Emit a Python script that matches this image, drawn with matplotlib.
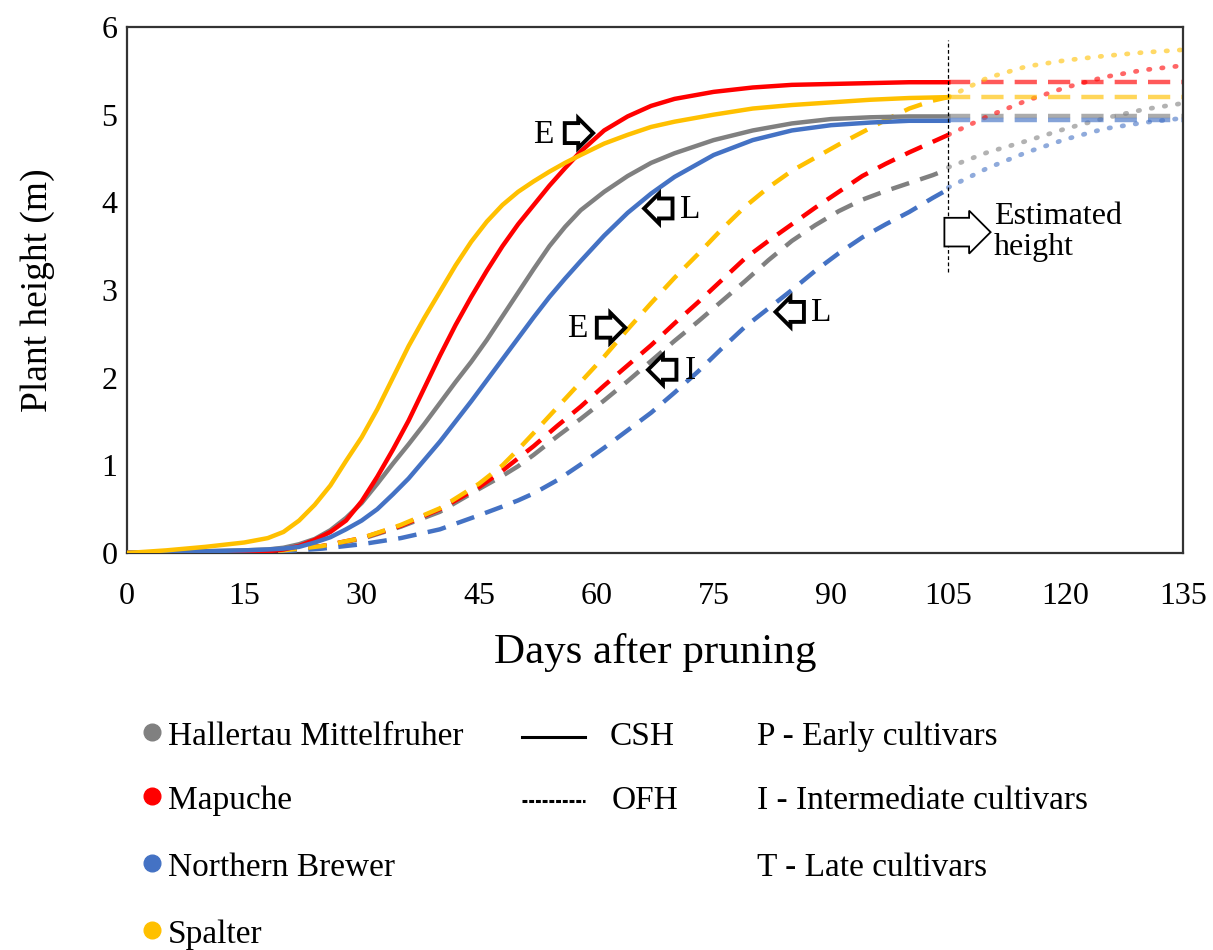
import matplotlib
matplotlib.use("Agg")
import matplotlib.pyplot as plt
from matplotlib.lines import Line2D
import numpy as np

plt.rcParams['font.family'] = ['Liberation Serif', 'DejaVu Serif']

# ---------------- data ----------------
days_csh = [0, 5, 10, 15, 18, 20, 22, 24, 26, 28, 30, 32, 34, 36, 38, 40, 42, 44, 46, 48,
            50, 52, 54, 56, 58, 61, 64, 67, 70, 75, 80, 85, 90, 95, 100, 105]
hall_csh = [0, 0.01, 0.02, 0.03, 0.04, 0.06, 0.10, 0.16, 0.26, 0.40, 0.57, 0.79, 1.02, 1.24, 1.47,
            1.71, 1.95, 2.18, 2.43, 2.70, 2.97, 3.24, 3.50, 3.72, 3.91, 4.12, 4.30, 4.45, 4.56, 4.71,
            4.82, 4.90, 4.95, 4.97, 4.98, 4.98]
map_csh = [0, 0.0, 0.0, 0.01, 0.02, 0.04, 0.08, 0.15, 0.24, 0.37, 0.59, 0.87, 1.18, 1.51, 1.88,
           2.25, 2.60, 2.92, 3.22, 3.50, 3.75, 3.97, 4.19, 4.39, 4.58, 4.82, 4.98, 5.10, 5.18, 5.26,
           5.31, 5.34, 5.35, 5.36, 5.37, 5.37]
nb_csh = [0, 0.01, 0.02, 0.03, 0.04, 0.05, 0.07, 0.12, 0.18, 0.27, 0.37, 0.50, 0.67, 0.85, 1.06,
          1.27, 1.50, 1.73, 1.97, 2.21, 2.45, 2.69, 2.92, 3.13, 3.33, 3.62, 3.88, 4.10, 4.29, 4.54,
          4.71, 4.82, 4.88, 4.91, 4.93, 4.93]
spa_csh = [0, 0.03, 0.07, 0.12, 0.17, 0.24, 0.37, 0.55, 0.77, 1.05, 1.32, 1.64, 2.00, 2.36, 2.68,
           2.98, 3.28, 3.55, 3.78, 3.97, 4.12, 4.24, 4.35, 4.45, 4.54, 4.67, 4.77, 4.86, 4.92, 5.00,
           5.07, 5.11, 5.14, 5.17, 5.19, 5.20]

days_ofh = [0, 5, 10, 15, 20, 25, 30, 35, 40, 45, 48, 50, 52, 55, 58, 61, 64, 67, 70, 73, 76, 79,
            82, 85, 88, 91, 94, 97, 100, 103, 105]
hall_ofh = [0, 0, 0, 0.01, 0.03, 0.08, 0.16, 0.30, 0.47, 0.73, 0.88, 0.99, 1.12, 1.33, 1.53, 1.74,
            1.96, 2.19, 2.42, 2.64, 2.87, 3.10, 3.34, 3.56, 3.74, 3.90, 4.03, 4.13, 4.22, 4.31, 4.38]
map_ofh = [0, 0, 0, 0.01, 0.03, 0.08, 0.17, 0.31, 0.50, 0.75, 0.94, 1.08, 1.22, 1.45, 1.67, 1.91,
           2.14, 2.37, 2.62, 2.86, 3.11, 3.36, 3.56, 3.75, 3.94, 4.12, 4.30, 4.44, 4.57, 4.69, 4.77]
nb_ofh = [0, 0, 0, 0, 0.02, 0.05, 0.10, 0.17, 0.27, 0.43, 0.53, 0.60, 0.68, 0.83, 1.01, 1.20, 1.40,
          1.60, 1.83, 2.07, 2.33, 2.58, 2.79, 3.00, 3.22, 3.42, 3.60, 3.75, 3.89, 4.05, 4.15]
spa_ofh = [0, 0, 0, 0.01, 0.03, 0.08, 0.17, 0.32, 0.51, 0.79, 1.00, 1.18, 1.37, 1.66, 1.95, 2.24,
           2.55, 2.85, 3.14, 3.41, 3.69, 3.95, 4.17, 4.36, 4.51, 4.66, 4.80, 4.94, 5.07, 5.16, 5.20]

# estimated (extrapolated) heights after day 105
days_est = [105, 110, 115, 120, 125, 130, 135]
hall_est = [4.40, 4.57, 4.70, 4.84, 4.96, 5.06, 5.13]
map_est = [4.77, 4.98, 5.16, 5.31, 5.43, 5.51, 5.56]
nb_est = [4.17, 4.39, 4.57, 4.72, 4.84, 4.91, 4.96]
spa_est = [5.20, 5.42, 5.55, 5.62, 5.67, 5.71, 5.74]

days_flat = [105, 135]
hall_flat = [4.98, 4.98]
map_flat = [5.37, 5.37]
nb_flat = [4.94, 4.94]
spa_flat = [5.20, 5.20]

cultivars = ["Hallertau Mittelfruher", "Mapuche", "Northern Brewer", "Spalter"]
colors = ["#808080", "#FF0000", "#4472C4", "#FFC000"]
x_ticks = [0, 15, 30, 45, 60, 75, 90, 105, 120, 135]
y_ticks = [0, 1, 2, 3, 4, 5, 6]

# ---------------- figure ----------------
W, H = 1213, 950
fig = plt.figure(figsize=(W / 100, H / 100), dpi=100)
L, R, T, B = 127, 1183, 27, 553
ax = fig.add_axes([L / W, 1 - B / H, (R - L) / W, (B - T) / H])

csh = [hall_csh, map_csh, nb_csh, spa_csh]
ofh = [hall_ofh, map_ofh, nb_ofh, spa_ofh]
est = [hall_est, map_est, nb_est, spa_est]
flat = [hall_flat, map_flat, nb_flat, spa_flat]

# estimated parts (drawn first, lighter)
for e, f, c in zip(est, flat, colors):
    ax.plot(days_est, e, color=c, alpha=0.6, lw=3.4, linestyle=(0, (0.3, 2.5)),
            dash_capstyle='round', zorder=2)
    ax.plot(days_flat, f, color=c, alpha=0.65, lw=3.2, linestyle=(0, (5, 2.5)), zorder=2)

# OFH dashed
for d, c in zip(ofh, colors):
    ax.plot(days_ofh, d, color=c, lw=3.2, linestyle=(0, (4.2, 2.6)), zorder=3)
# CSH solid
for d, c in zip(csh, colors):
    ax.plot(days_csh, d, color=c, lw=3.2, zorder=4, solid_joinstyle='round')

ax.axvline(105, ymin=3.2 / 6, ymax=5.85 / 6, color='black', lw=0.9, linestyle=(0, (3, 2)), zorder=5)

ax.set_xlim(0, 135)
ax.set_ylim(0, 6)
ax.set_xticks(x_ticks)
ax.set_yticks(y_ticks)
ax.tick_params(length=0, labelsize=23, colors='black')
ax.tick_params(axis='x', pad=21)
ax.tick_params(axis='y', pad=7)
for s in ax.spines.values():
    s.set_linewidth(1.6)
    s.set_color('#333333')

ax.set_xlabel("Days after pruning", fontsize=31, labelpad=16)
ax.set_ylabel("Plant height (m)", fontsize=27, labelpad=33)

# annotations with hollow arrows
def harrow(x, y, direction, fs=10, lw=2.8):
    style = 'rarrow,pad=0.25' if direction == 'r' else 'larrow,pad=0.25'
    ax.text(x, y, '    ', fontsize=fs, ha='center', va='center',
            bbox=dict(boxstyle=style, fc='white', ec='black', lw=lw), zorder=6)

fs_lab = 24
ax.text(53.2, 4.77, "E", fontsize=fs_lab, ha='center', va='center', zorder=6)
harrow(57.3, 4.79, 'r')
harrow(68.4, 3.93, 'l')
ax.text(72.0, 3.91, "L", fontsize=fs_lab, ha='center', va='center', zorder=6)
ax.text(57.5, 2.56, "E", fontsize=fs_lab, ha='center', va='center', zorder=6)
harrow(61.4, 2.57, 'r')
harrow(68.9, 2.09, 'l')
ax.text(72.0, 2.08, "I", fontsize=fs_lab, ha='center', va='center', zorder=6)
harrow(85.2, 2.75, 'l')
ax.text(88.8, 2.74, "L", fontsize=fs_lab, ha='center', va='center', zorder=6)

ax.text(106.8, 3.66, '     ', fontsize=14, ha='center', va='center',
        bbox=dict(boxstyle='rarrow,pad=0.3', fc='white', ec='black', lw=1.3), zorder=6)
ax.text(110.8, 3.66, "Estimated\nheight", fontsize=23, ha='left', va='center',
        linespacing=1.1, zorder=6)

# ---------------- custom legend ----------------
def fx(px):
    return px / W

def fy(py):
    return 1 - py / H

fs_leg = 24
rows = [737, 801, 868, 935]
for name, c, ry in zip(cultivars, colors, rows):
    fig.add_artist(Line2D([fx(152)], [fy(ry - 5)], marker='o', markersize=12, color=c,
                          transform=fig.transFigure, linestyle='none'))
    fig.text(fx(168), fy(ry), name, fontsize=fs_leg, ha='left', va='center')

fig.add_artist(Line2D([fx(522), fx(585)], [fy(737), fy(737)], color='black', lw=2.2,
                      transform=fig.transFigure))
fig.text(fx(610), fy(737), "CSH", fontsize=fs_leg, ha='left', va='center')
fig.add_artist(Line2D([fx(522), fx(585)], [fy(801), fy(801)], color='black', lw=2.2,
                      linestyle=(0, (1.6, 0.6)), transform=fig.transFigure))
fig.text(fx(612), fy(801), "OFH", fontsize=fs_leg, ha='left', va='center')

fig.text(fx(757), fy(737), "P - Early cultivars", fontsize=fs_leg, ha='left', va='center')
fig.text(fx(757), fy(801), "I - Intermediate cultivars", fontsize=fs_leg, ha='left', va='center')
fig.text(fx(757), fy(868), "T - Late cultivars", fontsize=fs_leg, ha='left', va='center')

fig.savefig("out.png", dpi=100, facecolor='white')
